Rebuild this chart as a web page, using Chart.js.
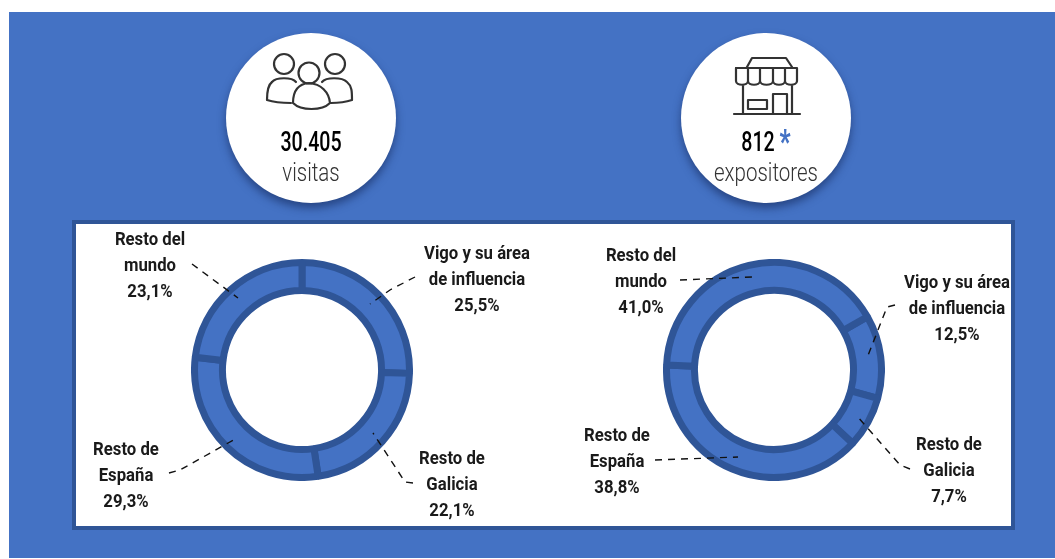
<!DOCTYPE html>
<html lang="es"><head><meta charset="utf-8">
<script src="https://cdn.jsdelivr.net/npm/chart.js@4/dist/chart.umd.min.js"></script>
<style>
html,body{margin:0;padding:0;background:#fff;width:1055px;height:559px;overflow:hidden}
#bg{position:absolute;left:9px;top:12px;width:1046px;height:546px;background:#4472C4}
#panel{position:absolute;left:72px;top:220px;width:935px;height:302px;background:#fff;border:4px solid #2F5597}
.badge{position:absolute;top:33px;width:170px;height:170px;border-radius:50%;background:#fff;box-shadow:0 5px 9px rgba(20,40,90,.6)}
.num,.sub{position:absolute;left:0;width:100%;text-align:center;font-family:"Roboto",sans-serif;line-height:1}
.num{top:95px;font-size:28px;font-weight:500;color:#000;transform:scaleX(.7)}
.sub{top:127px;font-size:25px;font-weight:300;color:#333;transform:scaleX(.82)}
.num b{color:#4472C4;font-weight:900;font-size:34px;line-height:0;position:relative;top:2px}
canvas.donut{position:absolute;top:259px}
.lab{position:absolute;transform:translateX(-50%) scaleX(.88);text-align:center;white-space:nowrap;font-family:"Roboto",sans-serif;font-size:19px;font-weight:700;line-height:26px;color:#1a1a1a}
#overlay,#icons{position:absolute;left:0;top:0;pointer-events:none}
#icons g{filter:blur(.35px)}
</style></head>
<body>
<div id="bg"></div>
<div class="badge" style="left:226px"><div class="num" id="n1"></div><div class="sub" id="s1"></div></div>
<div class="badge" style="left:681px"><div class="num" id="n2"></div><div class="sub" id="s2"></div></div>
<svg id="icons" width="1055" height="559" fill="none" stroke="#333" stroke-width="2.2" stroke-linejoin="round" stroke-linecap="round">
  <g>
    <circle cx="284" cy="64" r="10"/><circle cx="335" cy="64" r="10"/>
    <path d="M296 82C292 77 276 77 272 82C268 85 267 92 267 100C273 102 284 103 291 103"/>
    <path d="M322 82C326 77 342 77 347 82C352 86 352 92 352 100C346 102 338 103 331 103"/>
    <circle cx="309" cy="73" r="10.5"/>
    <path d="M293 103C293 92 297 84 309 83C321 84 329 92 330 103C322 111 301 111 293 103Z"/>
  </g>
  <g>
    <path d="M747 67L752 58H786L792 67"/>
    <path d="M736 68H797V81"/>
    <path d="M736 68V81C736 86 748 86 748 81C748 86 760 86 760 81C760 86 773 86 773 81C773 86 785 86 785 81C785 86 797 86 797 81"/>
    <path d="M748 68V81M760 68V81M773 68V81M785 68V81"/>
    <path d="M743 86V113M792 86V113M734 114H800"/>
    <rect x="748" y="100" width="19" height="9"/>
    <path d="M773 113V94H787V113"/>
  </g>
</svg>
<div id="panel"></div>
<canvas class="donut" id="c1" width="222" height="222" style="left:191px"></canvas>
<canvas class="donut" id="c2" width="222" height="222" style="left:663px"></canvas>
<svg id="overlay" width="1055" height="559"></svg>
<div id="labels"></div>
<script>
// Data
const categories = ["Vigo y su área de influencia", "Resto de Galicia", "Resto de España", "Resto del mundo"];
const visitasShares = [25.5, 22.1, 29.3, 23.1];
const expositoresShares = [12.5, 7.7, 38.8, 41.0];
const visitasTotal = "30.405";
const visitasCaption = "visitas";
const expositoresTotal = "812";
const expositoresCaption = "expositores";
const categoryLines = [["Vigo y su área","de influencia"],["Resto de","Galicia"],["Resto de","España"],["Resto del","mundo"]];

// Callout layout (page pixels): label centre/top and leader polyline for each category
const callouts1 = [
  {x:477, y:240, line:"415,277 390,290 370,304"},
  {x:452, y:445, line:"413,483 405,482 373,433"},
  {x:126, y:436, line:"169,473 180,470 237,438"},
  {x:150, y:226, line:"192,264 238,298"}
];
const callouts2 = [
  {x:957, y:269, line:"895,305 887,307 867,358"},
  {x:949, y:431, line:"910,469 900,465 857,416"},
  {x:617, y:422, line:"655,460 738,457"},
  {x:641, y:242, line:"680,280 752,277"}
];

document.getElementById('n1').textContent = visitasTotal;
document.getElementById('s1').textContent = visitasCaption;
document.getElementById('n2').innerHTML = expositoresTotal + ' <b>*</b>';
document.getElementById('s2').textContent = expositoresCaption;

const fmt = v => v.toFixed(1).replace('.', ',') + '%';
function donut(id, values, rotation){
  new Chart(document.getElementById(id), {
    type:'doughnut',
    data:{labels:categories, datasets:[{data:values, backgroundColor:'#4472C4', borderColor:'#2F5597', borderWidth:7, hoverOffset:0}]},
    options:{responsive:false, animation:false, rotation, cutout:'74%', layout:{padding:0},
      plugins:{legend:{display:false}, tooltip:{enabled:false}}}
  });
}
donut('c1', visitasShares, 0);
donut('c2', expositoresShares, 60.3);

const NS='http://www.w3.org/2000/svg', overlay=document.getElementById('overlay'), labels=document.getElementById('labels');
function callouts(list, values){
  list.forEach((c,i)=>{
    const p=document.createElementNS(NS,'polyline');
    p.setAttribute('points',c.line); p.setAttribute('fill','none'); p.setAttribute('stroke','#111');
    p.setAttribute('stroke-width','1.4'); p.setAttribute('stroke-dasharray','7 6');
    overlay.appendChild(p);
    const d=document.createElement('div'); d.className='lab';
    d.style.left=c.x+'px'; d.style.top=c.y+'px';
    d.innerHTML=categoryLines[i].join('<br>')+'<br>'+fmt(values[i]);
    labels.appendChild(d);
  });
}
callouts(callouts1, visitasShares);
callouts(callouts2, expositoresShares);
</script>
</body></html>
